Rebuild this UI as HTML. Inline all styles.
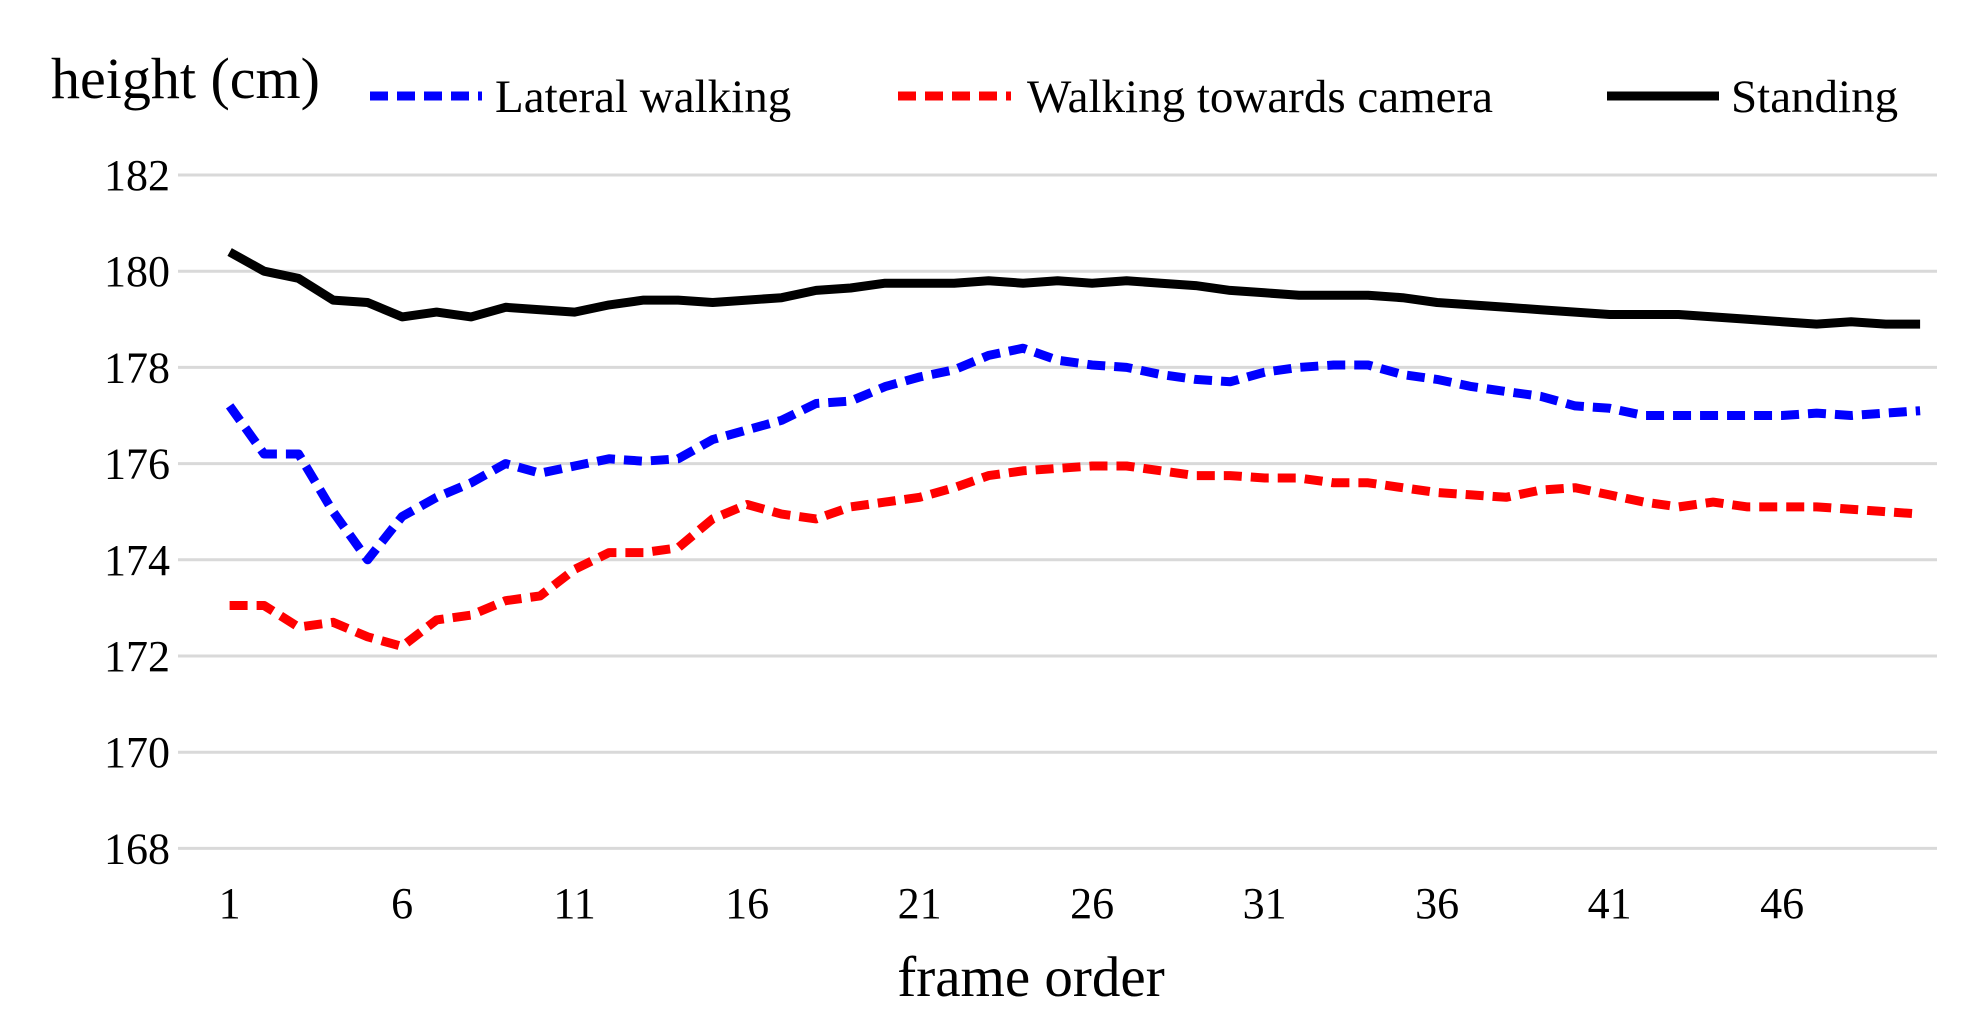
<!DOCTYPE html>
<html><head><meta charset="utf-8"><style>
html,body{margin:0;padding:0;background:#fff;}
svg{display:block;font-family:"Liberation Serif",serif;}
</style></head><body>
<svg id="chart" width="1970" height="1026" viewBox="0 0 1970 1026">
<g id="grid"></g><g id="yticks"></g><g id="xticks"></g><g id="series"></g>
<text x="51" y="98" font-size="58" fill="#000">height (cm)</text>
<text x="1031" y="996" font-size="57" text-anchor="middle" fill="#000">frame order</text>
<g>
<g><line x1="370" y1="96" x2="482" y2="96" stroke="#0000ff" stroke-width="9" stroke-dasharray="18 9"/><text x="495" y="112" font-size="47">Lateral walking</text></g>
<g><line x1="898" y1="96" x2="1011" y2="96" stroke="#ff0000" stroke-width="9" stroke-dasharray="18 9"/><text x="1027" y="112" font-size="47">Walking towards camera</text></g>
<g><line x1="1607" y1="96" x2="1719" y2="96" stroke="#000" stroke-width="9"/><text x="1731" y="112" font-size="47">Standing</text></g>
</g>
</svg>
<script>
const yTicks=[168,170,172,174,176,178,180,182];
const xTicks=[1,6,11,16,21,26,31,36,41,46];
const standing=[180.4,180.0,179.85,179.4,179.35,179.05,179.15,179.05,179.25,179.2,179.15,179.3,179.4,179.4,179.35,179.4,179.45,179.6,179.65,179.75,179.75,179.75,179.8,179.75,179.8,179.75,179.8,179.75,179.7,179.6,179.55,179.5,179.5,179.5,179.45,179.35,179.3,179.25,179.2,179.15,179.1,179.1,179.1,179.05,179.0,178.95,178.9,178.95,178.9,178.9];
const lateral=[177.2,176.2,176.2,175.0,174.0,174.9,175.3,175.6,176.0,175.8,175.95,176.1,176.05,176.1,176.5,176.7,176.9,177.25,177.3,177.6,177.8,177.95,178.25,178.4,178.15,178.05,178.0,177.85,177.75,177.7,177.9,178.0,178.05,178.05,177.85,177.75,177.6,177.5,177.4,177.2,177.15,177.0,177.0,177.0,177.0,177.0,177.05,177.0,177.05,177.1];
const towards=[173.05,173.05,172.6,172.7,172.4,172.2,172.75,172.85,173.15,173.25,173.8,174.15,174.15,174.25,174.85,175.15,174.95,174.85,175.1,175.2,175.3,175.5,175.75,175.85,175.9,175.95,175.95,175.85,175.75,175.75,175.7,175.7,175.6,175.6,175.5,175.4,175.35,175.3,175.45,175.5,175.35,175.2,175.1,175.2,175.1,175.1,175.1,175.05,175.0,174.95];
const NS="http://www.w3.org/2000/svg";
function xs(f){return 229.6+(f-1)*34.5;}
function ys(v){return 175+(182-v)*48.1;}
function mk(tag,attrs,parent){const e=document.createElementNS(NS,tag);for(const k in attrs)e.setAttribute(k,attrs[k]);parent.appendChild(e);return e;}
const grid=document.getElementById('grid'),yt=document.getElementById('yticks'),xt=document.getElementById('xticks'),sg=document.getElementById('series');
yTicks.forEach(v=>{
  const l=mk('line',{x1:178,x2:1937,y1:ys(v),y2:ys(v),stroke:'#d9d9d9','stroke-width':3},grid);
  
  
  const t=mk('text',{x:170,y:ys(v)+15,'font-size':44,'text-anchor':'end'},yt);
  t.textContent=v;
  
  
});
xTicks.forEach(f=>{
  const t=mk('text',{x:xs(f),y:918,'font-size':44,'text-anchor':'middle'},xt);
  t.textContent=f;
  
  
});
function line(data,color,dash,name){
  const pts=data.map((v,i)=>xs(i+1).toFixed(1)+','+ys(v).toFixed(1)).join(' ');
  const p=mk('polyline',{points:pts,fill:'none',stroke:color,'stroke-width':9,'stroke-linejoin':'round'},sg);
  if(dash)p.setAttribute('stroke-dasharray',dash);
  
  
}
line(towards,'#ff0000','18 9','series-walking-towards-camera');
line(lateral,'#0000ff','18 9','series-lateral-walking');
line(standing,'#000000',null,'series-standing');
</script>
</body></html>
